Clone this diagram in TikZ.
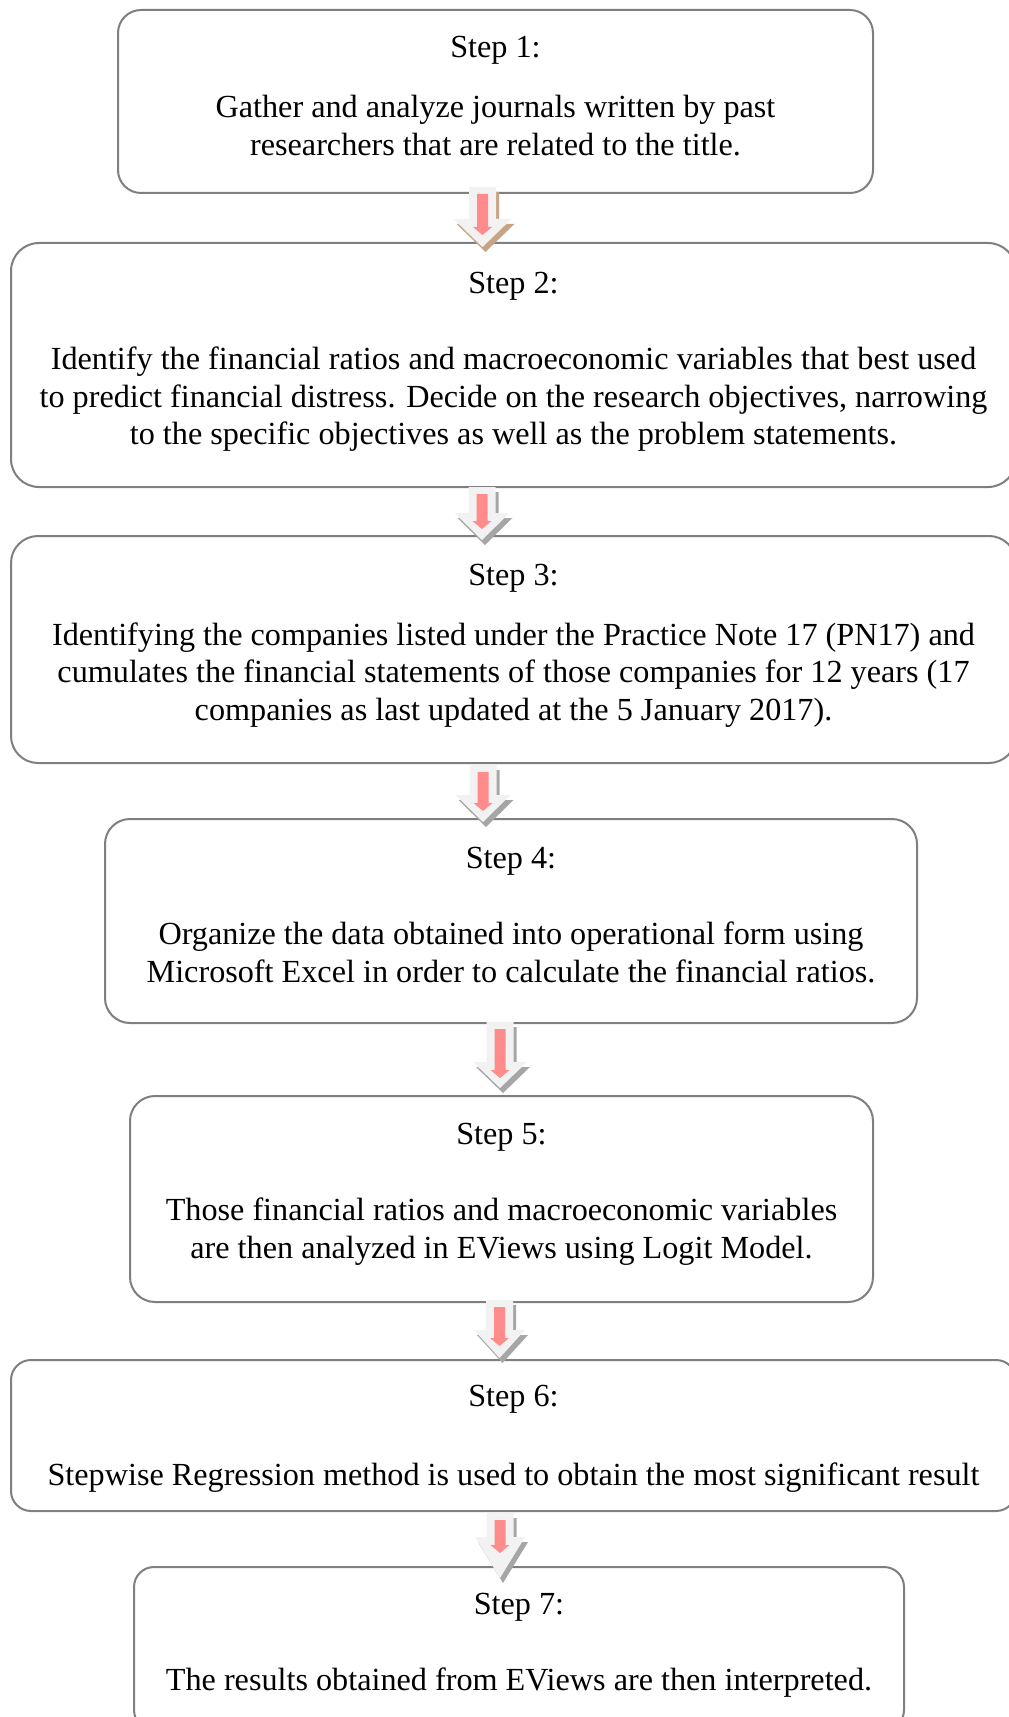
\documentclass[tikz,border=0pt]{standalone}
\usepackage{fontspec}
\setmainfont{Liberation Serif}
\usetikzlibrary{positioning}

\definecolor{boxgray}{HTML}{7F7F7F}
\definecolor{arrowfill}{HTML}{F2F2F2}
\definecolor{arrowred}{HTML}{FF8B8B}
\definecolor{shadowgray}{HTML}{A6A6A6}
\definecolor{shadowbrown}{HTML}{C8A385}

\tikzset{
  stepbox/.style={draw=boxgray, line width=1pt, fill=white, align=center,
    inner sep=0pt, font=\fontsize{16.1pt}{18.75pt}\selectfont},
}

% invisible struts to settle the text inside a box
\newcommand{\lowstrut}[1]{\rule[-#1]{0pt}{0pt}}
\newcommand{\highstrut}[1]{\rule{0pt}{#1}}

% block arrow: x, top, neck, tip, half head width, shadow colour
\newcommand{\stepdown}[6]{%
  \fill[#6, xshift=1.5pt, yshift=-2.5pt] ({#1-13.5},#2) -- ({#1+13.5},#2) -- ({#1+13.5},#3)
    -- ({#1+#5},#3) -- (#1,#4) -- ({#1-#5},#3) -- ({#1-13.5},#3) -- cycle;
  \fill[arrowfill] ({#1-13.5},#2) -- ({#1+13.5},#2) -- ({#1+13.5},#3)
    -- ({#1+#5},#3) -- (#1,#4) -- ({#1-#5},#3) -- ({#1-13.5},#3) -- cycle;
  \fill[arrowred] ({#1-5.5},{#2+7}) -- ({#1+5.5},{#2+7}) -- ({#1+5.5},{#3+8})
    -- ({#1+9.5},{#3+8}) -- (#1,{#3+16}) -- ({#1-9.5},{#3+8}) -- ({#1-5.5},{#3+8}) -- cycle;
}

\begin{document}
\begin{tikzpicture}[x=0.5pt,y=-0.5pt]
  \useasboundingbox (0,0) rectangle (1008,1717);

  % the seven steps
  \node[stepbox, minimum width=377.5pt, minimum height=91.5pt, rounded corners=11.5pt]
    (step1) at (495.5,101.5)
    {Step 1:\\[11.25pt] Gather and analyze journals written by past\\
     researchers that are related to the title.\lowstrut{5.7pt}};
  \node[stepbox, minimum width=502.5pt, minimum height=122pt, rounded corners=14pt]
    (step2) at (513.5,365)
    {Step 2:\\[19.5pt] Identify the financial ratios and macroeconomic variables that best used\\
     to predict financial distress. Decide on the research objectives, narrowing\\
     to the specific objectives as well as the problem statements.\lowstrut{6.8pt}};
  \node[stepbox, minimum width=502.5pt, minimum height=113.5pt, rounded corners=13.5pt]
    (step3) at (513.5,649.5)
    {Step 3:\\[11.25pt] Identifying the companies listed under the Practice Note 17 (PN17) and\\
     cumulates the financial statements of those companies for 12 years (17\\
     companies as last updated at the 5 January 2017).\lowstrut{7.3pt}};
  \node[stepbox, minimum width=406pt, minimum height=102pt, rounded corners=12.5pt]
    (step4) at (511,921)
    {Step 4:\\[19.5pt] Organize the data obtained into operational form using\\
     Microsoft Excel in order to calculate the financial ratios.\lowstrut{6.6pt}};
  \node[stepbox, minimum width=371.5pt, minimum height=103pt, rounded corners=12.5pt]
    (step5) at (501.5,1199)
    {Step 5:\\[19.5pt] Those financial ratios and macroeconomic variables\\
     are then analyzed in EViews using Logit Model.\lowstrut{8.4pt}};
  \node[stepbox, minimum width=502.5pt, minimum height=75.5pt, rounded corners=10pt]
    (step6) at (513.5,1435.5)
    {\highstrut{14.2pt}Step 6:\\[20.6pt] Stepwise Regression method is used to obtain the most significant result};
  \node[stepbox, minimum width=385pt, minimum height=81.5pt, rounded corners=10pt]
    (step7) at (519,1648.5)
    {Step 7:\\[19.5pt] The results obtained from EViews are then interpreted.\lowstrut{6.8pt}};

  % block arrows between the steps
  \stepdown{482.5}{187}{219}{247}{29}{shadowbrown}
  \stepdown{482}{487}{513}{540}{27.5}{shadowgray}
  \stepdown{483}{765}{795}{822}{27.5}{shadowgray}
  \stepdown{500}{1022}{1062}{1088}{27}{shadowgray}
  \stepdown{499.5}{1300}{1330}{1358}{25.5}{shadowgray}
  \stepdown{500}{1513}{1537}{1578}{25}{shadowgray}
\end{tikzpicture}
\end{document}
